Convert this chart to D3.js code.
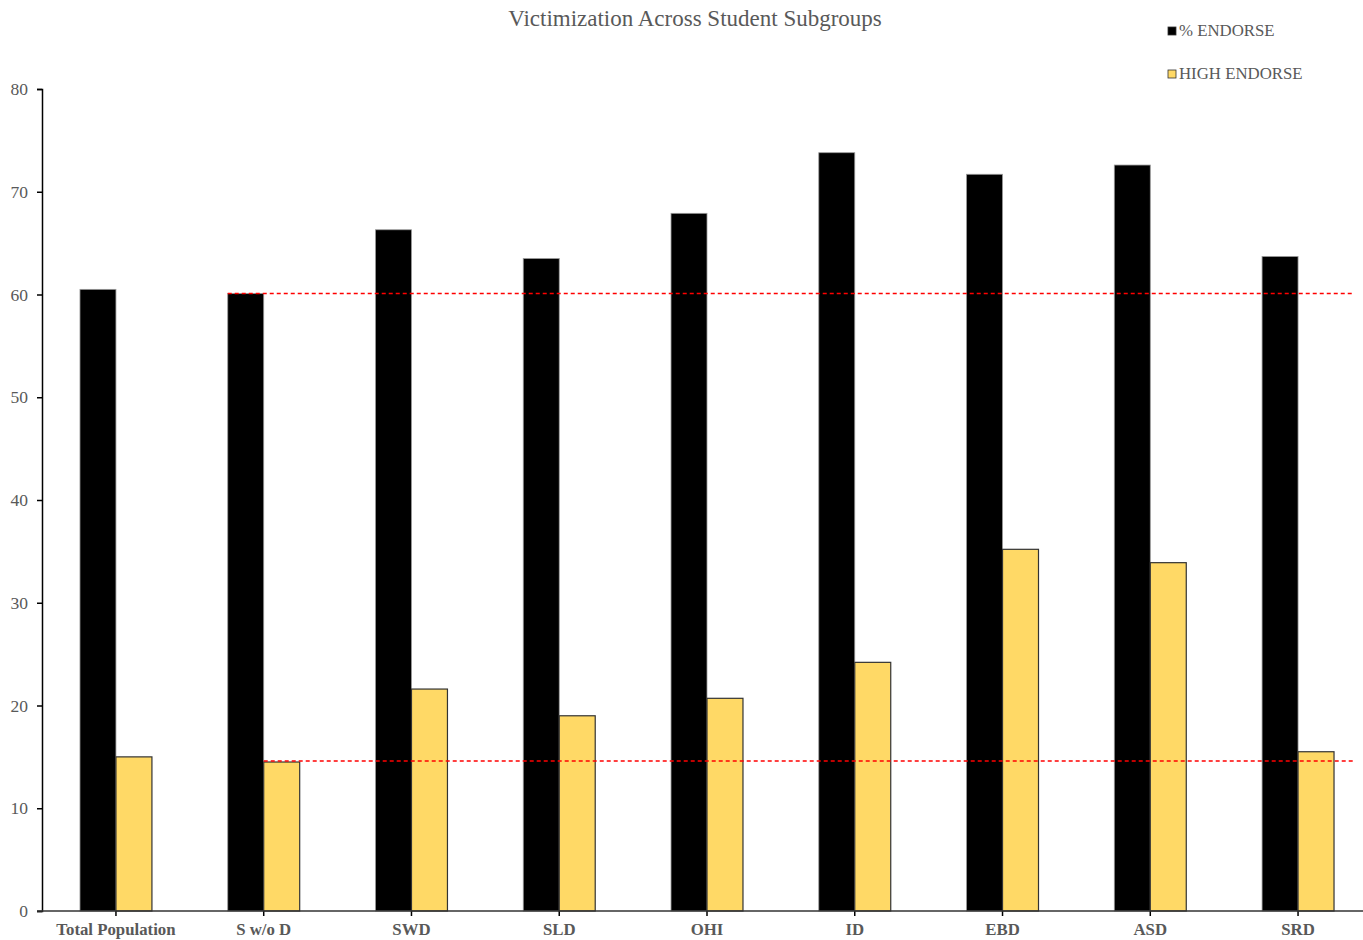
<!DOCTYPE html>
<html lang="en">
<head>
<meta charset="UTF-8">
<title>Victimization Across Student Subgroups</title>
<script src="https://d3js.org/d3.v7.min.js"></script>
<style>
    body { margin: 0; background: #fff; }
    svg text { font-family: "Liberation Serif", "Times New Roman", serif; }
    .tick text { fill: #595959; }
</style>
</head>
<body>
<svg width="1363" height="940"></svg>
<script>
    // data
    const categories = ["Total Population", "S w/o D", "SWD", "SLD", "OHI", "ID", "EBD", "ASD", "SRD"];
    const endorse = [60.5, 60.1, 66.3, 63.5, 67.9, 73.8, 71.7, 72.6, 63.7];
    const highEndorse = [15.0, 14.5, 21.6, 19.0, 20.7, 24.2, 35.2, 33.9, 15.5];
    const yTicks = [0, 10, 20, 30, 40, 50, 60, 70, 80];
    const seriesNames = ["% ENDORSE", "HIGH ENDORSE"];
    const seriesColors = ["#000000", "#FFD966"];
    const refIndex = 1; // reference lines at S w/o D values
    const refLow = 14.6;

    const svg = d3.select("svg");
    const margin = { left: 42, top: 89, bottom: 29 };
    const width = 1363, height = 940;

    const x = d3.scaleBand()
        .domain(categories)
        .range([margin.left, 1372])
        .paddingInner(0.513)
        .paddingOuter(0.257);

    const x1 = d3.scaleBand()
        .domain([0, 1])
        .range([0, x.bandwidth()]);

    const y = d3.scaleLinear()
        .domain([0, 80])
        .range([height - margin.bottom, margin.top]);

    // title
    svg.append("text")
        .attr("x", 695).attr("y", 26)
        .attr("text-anchor", "middle")
        .attr("font-size", 23)
        .attr("fill", "#595959")
        .text("Victimization Across Student Subgroups");

    // bars
    const groups = svg.selectAll(".grp")
        .data(categories)
        .enter().append("g")
        .attr("transform", d => `translate(${x(d)},0)`);

    groups.append("rect")
        .attr("x", x1(0))
        .attr("width", x1.bandwidth())
        .attr("y", (d, i) => y(endorse[i]))
        .attr("height", (d, i) => y(0) - y(endorse[i]))
        .attr("fill", seriesColors[0])
        .attr("stroke", "#9a9a9a")
        .attr("stroke-width", 0.8);

    groups.append("rect")
        .attr("x", x1(1))
        .attr("width", x1.bandwidth())
        .attr("y", (d, i) => y(highEndorse[i]))
        .attr("height", (d, i) => y(0) - y(highEndorse[i]))
        .attr("fill", seriesColors[1])
        .attr("stroke", "#333")
        .attr("stroke-width", 1.2);

    // reference lines
    const refCat = categories[refIndex];
    svg.append("line")
        .attr("x1", x(refCat) + x1(0)).attr("x2", width - 10)
        .attr("y1", y(endorse[refIndex])).attr("y2", y(endorse[refIndex]))
        .attr("stroke", "#ff0000").attr("stroke-width", 1.5)
        .attr("stroke-dasharray", "4,3");
    svg.append("line")
        .attr("x1", x(refCat) + x1(1)).attr("x2", width - 10)
        .attr("y1", y(refLow)).attr("y2", y(refLow))
        .attr("stroke", "#ff0000").attr("stroke-width", 1.5)
        .attr("stroke-dasharray", "4,3");

    // y axis
    const yAxis = svg.append("g")
        .attr("transform", `translate(${margin.left},0)`)
        .call(d3.axisLeft(y).tickValues(yTicks).tickSize(5).tickPadding(9));
    yAxis.select(".domain").attr("stroke", "#000").attr("stroke-width", 1.5);
    yAxis.selectAll(".tick line").attr("stroke", "#000").attr("stroke-width", 1.5);
    yAxis.selectAll(".tick text").attr("font-size", 17.5);

    // x axis
    const xAxis = svg.append("g")
        .attr("transform", `translate(0,${y(0)})`)
        .call(d3.axisBottom(x).tickSize(5).tickPadding(7).tickSizeOuter(0));
    xAxis.select(".domain").remove();
    xAxis.append("line")
        .attr("x1", margin.left - 5).attr("x2", width)
        .attr("stroke", "#333").attr("stroke-width", 1.5);
    xAxis.selectAll(".tick line").attr("stroke", "#000").attr("stroke-width", 1.5);
    xAxis.selectAll(".tick text")
        .attr("font-size", 16.8).attr("font-weight", "bold");

    // legend
    const legend = svg.selectAll(".legend")
        .data(seriesNames)
        .enter().append("g")
        .attr("transform", (d, i) => `translate(1168,${27 + i * 43})`);
    legend.append("rect")
        .attr("width", 8).attr("height", 8)
        .attr("fill", (d, i) => seriesColors[i])
        .attr("stroke", "#333").attr("stroke-width", 0.8);
    legend.append("text")
        .attr("x", 11).attr("y", 9)
        .attr("font-size", 16.8)
        .attr("fill", "#595959")
        .text(d => d);
</script>
</body>
</html>
